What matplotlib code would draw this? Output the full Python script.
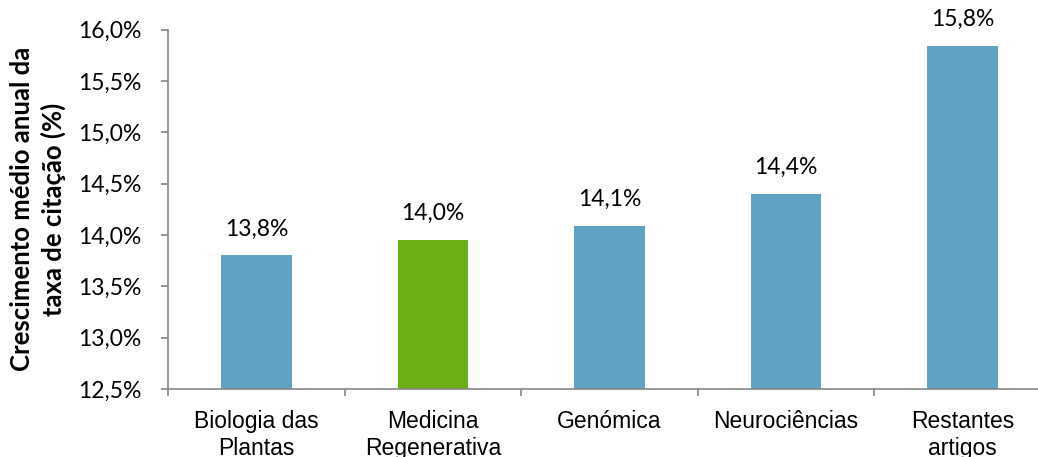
import matplotlib
matplotlib.use("Agg")
import matplotlib.pyplot as plt

categories = ["Biologia das\nPlantas", "Medicina\nRegenerativa", "Genómica", "Neurociências", "Restantes\nartigos"]
values = [13.80, 13.95, 14.09, 14.40, 15.84]
value_labels = ["13,8%", "14,0%", "14,1%", "14,4%", "15,8%"]
bar_colors = ["#5FA2C1", "#6AAF13", "#5FA2C1", "#5FA2C1", "#5FA2C1"]
yticks = [12.5, 13.0, 13.5, 14.0, 14.5, 15.0, 15.5, 16.0]
ytick_labels = ["12,5%", "13,0%", "13,5%", "14,0%", "14,5%", "15,0%", "15,5%", "16,0%"]
ylabel = "Crescimento médio anual da\ntaxa de citação (%)"

W, H = 1038, 457
fig = plt.figure(figsize=(W / 100, H / 100), dpi=100)
left, right, bottom_px, top_px = 168, 1051, 389, 29.5
ax = fig.add_axes([left / W, (H - bottom_px) / H, (right - left) / W, (bottom_px - top_px) / H])

x = list(range(len(categories)))
base = yticks[0]
ax.bar(x, [v - base for v in values], bottom=base, width=0.40, color=bar_colors, zorder=2)

for xi, v, lab in zip(x, values, value_labels):
    ax.annotate(lab, (xi, v), xytext=(0, 19), textcoords="offset points",
                ha="center", va="center", fontsize=16.5, family="Lato", color="#000000")

ax.set_xlim(-0.5, len(categories) - 0.5)
ax.set_ylim(yticks[0], yticks[-1])
ax.set_yticks(yticks)
ax.set_yticklabels(ytick_labels, fontsize=16.5, family="Lato")

# category boundary ticks
ax.set_xticks([i - 0.5 for i in range(len(categories) + 1)])
ax.set_xticklabels([])
ax.tick_params(axis="x", which="major", length=5, color="#868686", width=1.2)
ax.set_xticks(x, minor=True)
ax.set_xticklabels(categories, minor=True, fontsize=16.5, family="Liberation Sans", linespacing=1.25)
ax.tick_params(axis="x", which="minor", length=0, pad=15)
ax.tick_params(axis="y", length=5, color="#868686", width=1.2, pad=14)

for s in ["top", "right"]:
    ax.spines[s].set_visible(False)
for s in ["left", "bottom"]:
    ax.spines[s].set_color("#868686")
    ax.spines[s].set_linewidth(1.2)

ax.set_ylabel(ylabel, fontsize=18.5, family="Lato", fontweight="bold", labelpad=9, linespacing=1.28)

fig.savefig("out.png", dpi=100)
